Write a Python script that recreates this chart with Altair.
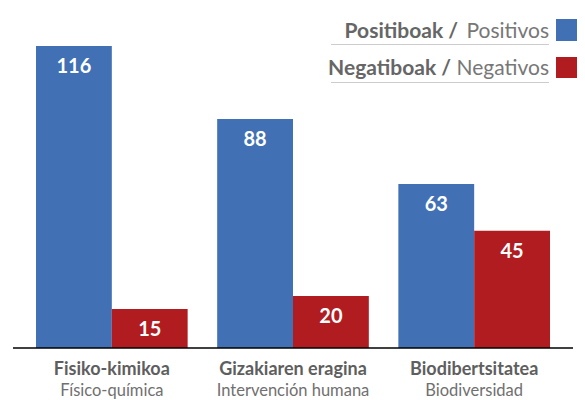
import altair as alt
import pandas as pd

# ---- data ----
categories = ["Fisiko-kimikoa", "Gizakiaren eragina", "Biodibertsitatea"]
categories_es = ["Físico-química", "Intervención humana", "Biodiversidad"]
series = ["Positiboak", "Negatiboak"]
series_es = ["Positivos", "Negativos"]
positive_values = [116, 88, 63]
negative_values = [15, 20, 45]
colors = ["#4170B4", "#B01C20"]

FONT = "Lato"

rows = []
for i, c in enumerate(categories):
    rows.append({"cat": c, "series": series[0], "value": positive_values[i]})
    rows.append({"cat": c, "series": series[1], "value": negative_values[i]})
df = pd.DataFrame(rows)
labels_df = pd.DataFrame({"cat": categories, "es": categories_es})

x_scale = alt.Scale(domain=categories, range=[28, 542], paddingInner=0.163, paddingOuter=0)
y_scale = alt.Scale(domain=[0, 116], range=[340, 38], nice=False, zero=True)
x_enc = alt.X("cat:N", scale=x_scale, axis=None)
xo_enc = alt.XOffset("series:N", scale=alt.Scale(domain=series, paddingInner=0, paddingOuter=0))
color_enc = alt.Color("series:N", scale=alt.Scale(domain=series, range=colors), legend=None)

bars = alt.Chart(df).mark_bar().encode(
    x=x_enc, xOffset=xo_enc, y=alt.Y("value:Q", scale=y_scale, axis=None), color=color_enc
)

values_txt = alt.Chart(df).mark_text(
    font=FONT, fontSize=20, fontWeight="bold", color="white", baseline="middle", dy=21
).encode(x=x_enc, xOffset=xo_enc, y=alt.Y("value:Q", scale=y_scale, axis=None), text="value:Q")

baseline = alt.Chart(pd.DataFrame({"v": [0]})).mark_rule(color="#000000", strokeWidth=1.5).encode(
    x=alt.value(5), x2=alt.value(565), y=alt.Y("v:Q", scale=y_scale, axis=None)
)

cat_bold = alt.Chart(labels_df).mark_text(
    font=FONT, fontSize=18, fontWeight="bold", color="#5E5E5E", baseline="alphabetic"
).encode(x=x_enc, y=alt.value(367), text="cat:N")

cat_norm = alt.Chart(labels_df).mark_text(
    font=FONT, fontSize=16.5, color="#707070", baseline="alphabetic"
).encode(x=x_enc, y=alt.value(388), text="es:N")

layers = [bars, values_txt, baseline, cat_bold, cat_norm]

# ---- custom legend (text on the left, swatch on the right) ----
legend_df = pd.DataFrame({"series": series, "es": series_es, "color": colors})
norm_widths = [83, 90]
base_y = [30, 67]
line_y = [36.5, 74.5]
sq_y = [(11, 33), (49, 70)]
for i in range(len(series)):
    row = legend_df.iloc[[i]]
    layers.append(alt.Chart(row).mark_text(
        font=FONT, fontSize=21, color="#777777", align="right", baseline="alphabetic"
    ).encode(x=alt.value(541), y=alt.value(base_y[i]), text="es:N"))
    layers.append(alt.Chart(row).mark_text(
        font=FONT, fontSize=21, fontWeight="bold", color="#666666", align="right", baseline="alphabetic"
    ).encode(x=alt.value(541 - norm_widths[i] - 8), y=alt.value(base_y[i]), text=alt.value(series[i] + " /")))
    layers.append(alt.Chart(row).mark_rule(color="#CCCCCC", strokeWidth=1).encode(
        x=alt.value(323), x2=alt.value(541), y=alt.value(line_y[i])))
    layers.append(alt.Chart(row).mark_rect().encode(
        x=alt.value(548), x2=alt.value(569), y=alt.value(sq_y[i][0]), y2=alt.value(sq_y[i][1]),
        color=alt.Color("color:N", scale=None)))

chart = alt.layer(*layers).properties(
    width=569, height=392, padding=0, autosize=alt.AutoSizeParams(type="none")
).configure_view(stroke=None)

chart.save("out.html", embed_options={"renderer": "svg", "actions": False})
